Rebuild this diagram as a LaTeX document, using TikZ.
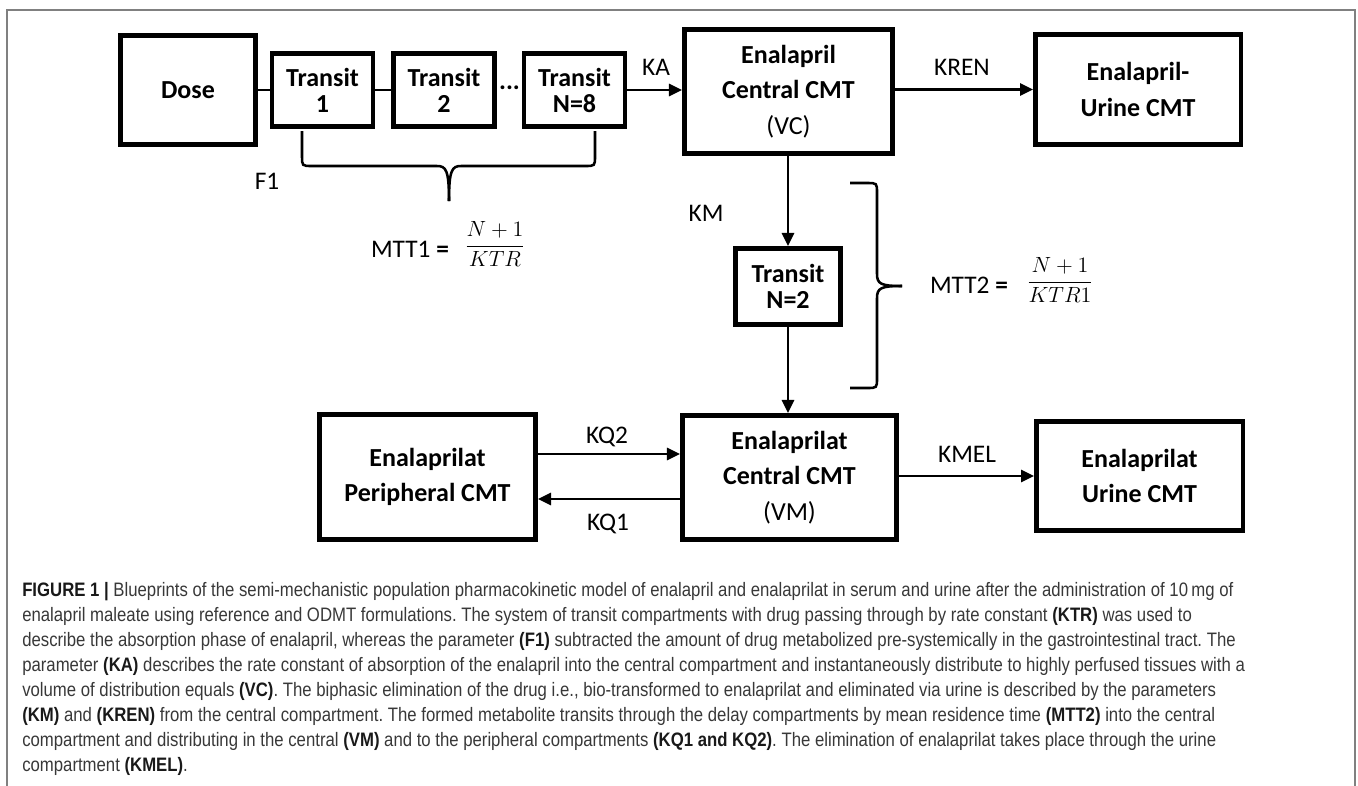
\documentclass[tikz,border=0pt]{standalone}
\usepackage{fix-cm}
\usepackage[no-math]{fontspec}
\setmainfont{Carlito}
\newfontfamily\capfont[FakeStretch=0.86]{Liberation Sans}
\usetikzlibrary{arrows.meta}
\definecolor{capgray}{gray}{0.22}
\definecolor{framegray}{gray}{0.5}
\newcommand\bk[1]{\textbf{\textcolor{black!90}{#1}}}
\frenchspacing
\begin{document}
\begin{tikzpicture}[x=0.75pt,y=-0.75pt,
  box/.style={draw, line width=3.4pt, inner sep=0pt, align=center,
    font=\fontsize{19.5pt}{26.5pt}\selectfont\bfseries},
  tbox/.style={box, font=\fontsize{19.5pt}{19.5pt}\selectfont\bfseries},
  lbl/.style={inner sep=0pt, anchor=base, font=\fontsize{19pt}{22pt}\selectfont},
  frac/.style={inner sep=0pt, anchor=base, font=\fontsize{16.5pt}{20pt}\selectfont},
  conn/.style={line width=2pt},
  arr/.style={line width=2pt, -{Triangle[length=9.75pt,width=9pt]}},
  bracepath/.style={line width=1.9pt}
]
\useasboundingbox (0,0) rectangle (1358,785);
% frame
\draw[framegray, line width=1.1pt] (7,790) -- (7,10) -- (1355,10) -- (1355,790);

% boxes
\node[box, minimum width=135.5*0.75pt, minimum height=109.5*0.75pt] (dose) at (188,90) {Dose};
\node[tbox, minimum width=101*0.75pt, minimum height=73.5*0.75pt] (t1) at (322.5,90) {Transit\\1};
\node[tbox, minimum width=101*0.75pt, minimum height=73.5*0.75pt] (t2) at (444,90) {Transit\\2};
\node[tbox, minimum width=101*0.75pt, minimum height=73.5*0.75pt] (t8) at (574.5,90) {Transit\\N=8};
\node[inner sep=0pt, font=\fontsize{19.5pt}{20pt}\selectfont\bfseries] (dots) at (509.5,88) {...};
\node[box, minimum width=208.5*0.75pt, minimum height=124.5*0.75pt] (ec) at (788.5,91.5) {Enalapril\\Central CMT\\\mdseries(VC)};
\node[box, minimum width=205.5*0.75pt, minimum height=110.5*0.75pt] (eu) at (1138,89.5) {Enalapril-\\Urine CMT};
\node[tbox, minimum width=105.5*0.75pt, minimum height=76.5*0.75pt] (tn2) at (788,286.5) {Transit\\N=2};
\node[box, minimum width=214.5*0.75pt, minimum height=124.5*0.75pt] (lc) at (789.5,477.5) {Enalaprilat\\Central CMT\\\mdseries(VM)};
\node[box, minimum width=206.5*0.75pt, minimum height=109.5*0.75pt] (lu) at (1139.5,476) {Enalaprilat\\Urine CMT};
\node[box, minimum width=216.5*0.75pt, minimum height=125.5*0.75pt] (lp) at (427.5,477) {Enalaprilat\\Peripheral CMT};

% connectors
\draw[conn] (dose) -- (t1);
\draw[conn] (t1) -- (t2);
\draw[arr] (t8.east) -- (t8.east -| ec.west);
\draw[arr] (eu.west -| ec.east) -- (eu.west);
\draw[arr] (tn2.north |- ec.south) -- (tn2.north);
\draw[arr] (tn2.south) -- (tn2.south |- lc.north);
\draw[arr] ([yshift=17.25pt]lp.east) -- ([yshift=17.25pt]lp.east -| lc.west);
\draw[arr] ([yshift=-16.5pt]lp.east -| lc.west) -- ([yshift=-16.5pt]lp.east);
\draw[arr] (lu.west -| lc.east) -- (lu.west);

% labels
\node[lbl] (ka) at (656,75) {KA};
\node[lbl] (kren) at (962,75) {KREN};
\node[lbl] (km) at (706,221) {KM};
\node[lbl] (kq2) at (607,443) {KQ2};
\node[lbl] (kq1) at (608,530) {KQ1};
\node[lbl] (kmel) at (967,462) {KMEL};
\node[lbl] (f1) at (267,189) {F1};
\node[lbl] (mtt1) at (410,257) {MTT1 \textbf{=}};
\node[frac] (fr1) at (495,251.5) {$\displaystyle\frac{N+1}{KTR}$};
\node[lbl] (mtt2) at (969,293) {MTT2 \textbf{=}};
\node[frac] (fr2) at (1060,287.5) {$\displaystyle\frac{N+1}{KTR1}$};

% brace under transit boxes
\coordinate (b1a) at (302,131);
\coordinate (b1tip) at (449,201);
\coordinate (b1b) at (595,131);
\draw[bracepath] (b1a) -- (302,156) .. controls (302,166) .. (312,166) -- (437,166)
   .. controls (446,166) and (449,170) .. (b1tip);
\draw[bracepath] (b1tip) .. controls (449,170) and (452,166) .. (461,166) -- (585,166)
   .. controls (595,166) .. (595,156) -- (b1b);

% brace beside transit N=2
\coordinate (b2a) at (850,183);
\coordinate (b2tip) at (902,286);
\coordinate (b2b) at (850,388);
\draw[bracepath] (b2a) -- (867,183) .. controls (877,183) .. (877,193) -- (877,274)
   .. controls (877,284) and (881,286) .. (b2tip);
\draw[bracepath] (b2tip) .. controls (881,286) and (877,288) .. (877,298) -- (877,378)
   .. controls (877,388) .. (867,388) -- (b2b);

% caption
\node[anchor=north west, align=left, inner sep=0pt, text=capgray,
  font=\capfont\fontsize{14.6pt}{18.75pt}\selectfont] (cap) at (22,582) {%
\bk{FIGURE 1 |} Blueprints of the semi-mechanistic population pharmacokinetic model of enalapril and enalaprilat in serum and urine after the administration of 10\,mg of\\
enalapril maleate using reference and ODMT formulations. The system of transit compartments with drug passing through by rate constant \bk{(KTR)} was used to\\
describe the absorption phase of enalapril, whereas the parameter \bk{(F1)} subtracted the amount of drug metabolized pre-systemically in the gastrointestinal tract. The\\
parameter \bk{(KA)} describes the rate constant of absorption of the enalapril into the central compartment and instantaneously distribute to highly perfused tissues with a\\
volume of distribution equals \bk{(VC)}. The biphasic elimination of the drug i.e., bio-transformed to enalaprilat and eliminated via urine is described by the parameters\\
\bk{(KM)} and \bk{(KREN)} from the central compartment. The formed metabolite transits through the delay compartments by mean residence time \bk{(MTT2)} into the central\\
compartment and distributing in the central \bk{(VM)} and to the peripheral compartments \bk{(KQ1 and KQ2)}. The elimination of enalaprilat takes place through the urine\\
compartment \bk{(KMEL)}.};
\end{tikzpicture}
\end{document}
